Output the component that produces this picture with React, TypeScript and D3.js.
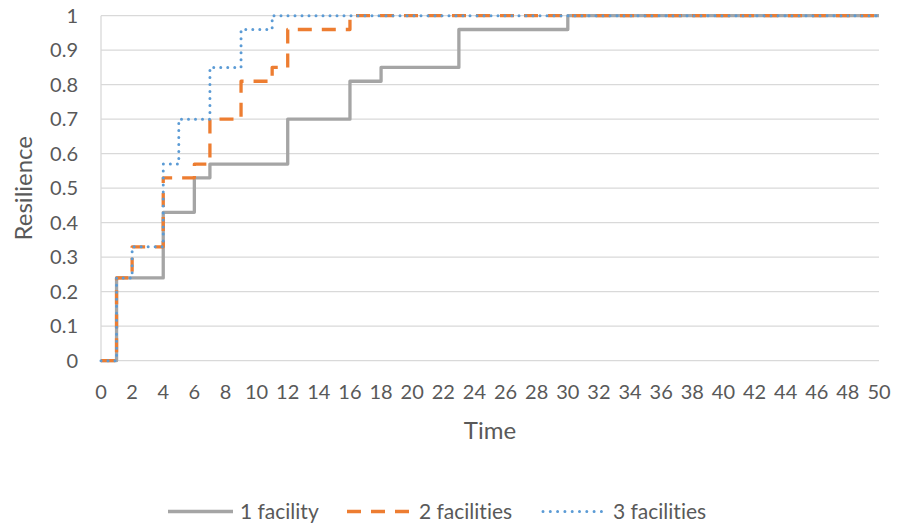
import React from "react";
import * as d3 from "d3";

// Step series: each value holds from its time until the next time
const times1 = [0, 1, 4, 6, 7, 12, 16, 18, 23, 30, 50];
const values1 = [0, 0.24, 0.43, 0.53, 0.57, 0.7, 0.81, 0.85, 0.96, 1, 1];

const times2 = [0, 1, 2, 4, 6, 7, 9, 11, 12, 16, 50];
const values2 = [0, 0.24, 0.33, 0.53, 0.57, 0.7, 0.81, 0.85, 0.96, 1, 1];

const times3 = [0, 1, 2, 4, 5, 7, 9, 11, 50];
const values3 = [0, 0.24, 0.33, 0.57, 0.7, 0.85, 0.96, 1, 1];

const seriesNames = ["1 facility", "2 facilities", "3 facilities"];
const xTicks = d3.range(0, 51, 2);
const yTicks = d3.range(0, 11).map((d) => d / 10);

const W = 897;
const H = 527;
const margin = { left: 101, right: 17, top: 15.7, bottom: 166.3 };
const FONT = "Lato, 'Open Sans', sans-serif";
const TEXT = "#595959";
const GRID = "#D9D9D9";
const TICK_SIZE = 20;
const TITLE_SIZE = 24;
const LEGEND_SIZE = 21;

const styles = [
  { color: "#A5A5A5", dash: "none", cap: "butt" as const, width: 3.3 },
  { color: "#ED7D31", dash: "14 10", cap: "butt" as const, width: 3.3 },
  { color: "#5B9BD5", dash: "0 7", cap: "round" as const, width: 3 },
];

export default function App() {
  const x = d3.scaleLinear().domain([0, 50]).range([margin.left, W - margin.right - 1]);
  const y = d3.scaleLinear().domain([0, 1]).range([H - margin.bottom, margin.top]);

  const line = d3
    .line<[number, number]>()
    .x((d) => x(d[0]))
    .y((d) => y(d[1]))
    .curve(d3.curveStepAfter);

  const series = [
    d3.zip(times1, values1) as [number, number][],
    d3.zip(times2, values2) as [number, number][],
    d3.zip(times3, values3) as [number, number][],
  ];

  const legendItems = [
    { x0: 168, x1: 233, tx: 240 },
    { x0: 347, x1: 412, tx: 419 },
    { x0: 543, x1: 606, tx: 613 },
  ];
  const legendY = 511.5;

  return (
    <svg
      width={W}
      height={H}
      style={{
        position: "absolute",
        left: 0,
        top: 0,
        background: "#fff",
        fontVariantLigatures: "none",
        fontFeatureSettings: '"liga" 0',
      }}
      fontFamily={FONT}
    >
      {/* horizontal gridlines */}
      {yTicks.map((t) => (
        <line
          key={"g" + t}
          x1={x(0)}
          x2={x(50)}
          y1={y(t)}
          y2={y(t)}
          stroke={GRID}
          strokeWidth={1.3}
        />
      ))}
      {/* left axis line */}
      <line x1={x(0)} x2={x(0)} y1={y(0)} y2={y(1)} stroke={GRID} strokeWidth={1.3} />

      {/* y tick labels */}
      {yTicks.map((t) => (
        <text
          key={"yl" + t}
          x={78}
          y={y(t)}
          dy="0.35em"
          textAnchor="end"
          fontSize={TICK_SIZE}
          fill={TEXT}
        >
          {t === 0 ? "0" : t === 1 ? "1" : d3.format(".1f")(t)}
        </text>
      ))}

      {/* x tick labels */}
      {xTicks.map((t) => (
        <text
          key={"xl" + t}
          x={x(t)}
          y={392}
          dy="0.35em"
          textAnchor="middle"
          fontSize={TICK_SIZE}
          fill={TEXT}
        >
          {t}
        </text>
      ))}

      {/* axis titles */}
      <text
        transform={`translate(24, ${y(0.5)}) rotate(-90)`}
        textAnchor="middle"
        dy="0.35em"
        fontSize={TITLE_SIZE}
        fill={TEXT}
      >
        Resilience
      </text>
      <text x={x(25)} y={431} dy="0.35em" textAnchor="middle" fontSize={TITLE_SIZE} fill={TEXT}>
        Time
      </text>

      {/* step lines */}
      {series.map((s, i) => (
        <path
          key={"s" + i}
          d={line(s) || ""}
          fill="none"
          stroke={styles[i].color}
          strokeWidth={styles[i].width}
          strokeDasharray={styles[i].dash}
          strokeLinecap={styles[i].cap}
          strokeLinejoin="round"
        />
      ))}

      {/* legend */}
      {legendItems.map((it, i) => (
        <g key={"lg" + i}>
          <line
            x1={it.x0}
            x2={it.x1}
            y1={legendY}
            y2={legendY}
            stroke={styles[i].color}
            strokeWidth={styles[i].width}
            strokeDasharray={i === 2 ? "0 7.3" : styles[i].dash}
            strokeLinecap={styles[i].cap}
          />
          <text x={it.tx} y={legendY} dy="0.35em" fontSize={LEGEND_SIZE} fill={TEXT}>
            {seriesNames[i]}
          </text>
        </g>
      ))}
    </svg>
  );
}
